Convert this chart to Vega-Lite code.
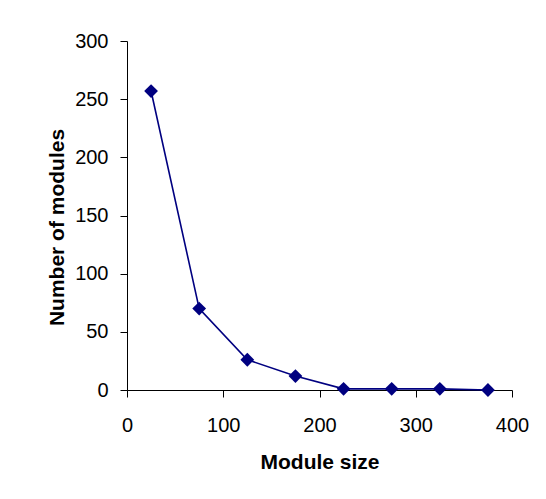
{
  "$schema": "https://vega.github.io/schema/vega-lite/v6.json",
  "autosize": {"type": "none"},
  "padding": {"left": 127, "top": 41, "right": 34, "bottom": 109},
  "width": 385,
  "height": 349,
  "background": "white",
  "config": {
    "view": {"stroke": null},
    "font": "Liberation Sans",
    "axis": {
      "grid": false,
      "domainColor": "black",
      "tickColor": "black",
      "tickSize": 7,
      "labelColor": "black",
      "labelFont": "Liberation Sans",
      "labelFontSize": 20,
      "titleFont": "Liberation Sans",
      "titleFontSize": 21,
      "titleFontWeight": "bold",
      "titleColor": "black"
    }
  },
  "data": {
    "values": [
      {"size": 25, "count": 257},
      {"size": 75, "count": 70},
      {"size": 125, "count": 26},
      {"size": 175, "count": 12},
      {"size": 225, "count": 1},
      {"size": 275, "count": 1},
      {"size": 325, "count": 1},
      {"size": 375, "count": 0}
    ]
  },
  "mark": {"type": "line", "color": "#000080", "strokeWidth": 1.6, "point": {"shape": "diamond", "size": 190, "color": "#000080", "filled": true, "opacity": 1}},
  "encoding": {
    "x": {
      "field": "size",
      "type": "quantitative",
      "title": "Module size",
      "scale": {"domain": [0, 400], "nice": false, "zero": false},
      "axis": {"values": [0, 100, 200, 300, 400], "labelPadding": 18, "titleY": 61, "labelFlush": false}
    },
    "y": {
      "field": "count",
      "type": "quantitative",
      "title": "Number of modules",
      "scale": {"domain": [0, 300], "nice": false},
      "axis": {"values": [0, 50, 100, 150, 200, 250, 300], "labelPadding": 12, "titleX": -64, "titleY": 186, "titleBaseline": "alphabetic", "titleAlign": "center", "titleAngle": -90}
    }
  }
}
